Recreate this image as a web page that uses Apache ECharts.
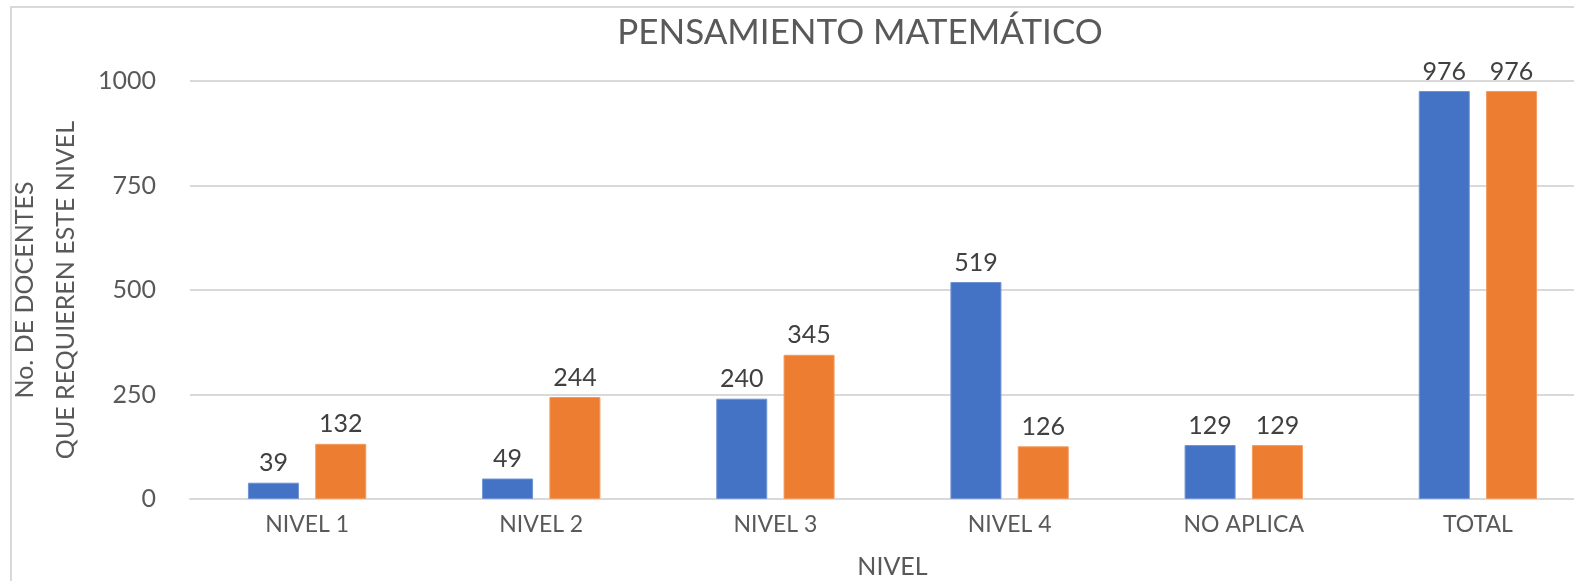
<!DOCTYPE html>
<html>
<head>
<meta charset="utf-8">
<title>Pensamiento matemático</title>
<script src="https://cdn.jsdelivr.net/npm/echarts@6/dist/echarts.min.js"></script>
<style>
  html, body { margin: 0; padding: 0; background: #fff; }
  #chart { width: 1574px; height: 581px; }
</style>
</head>
<body>
<div id="chart"></div>
<script>
// categorias y valores
const categories = ['NIVEL 1', 'NIVEL 2', 'NIVEL 3', 'NIVEL 4', 'NO APLICA', 'TOTAL'];
const serieAzul = [39, 49, 240, 519, 129, 976];
const serieNaranja = [132, 244, 345, 126, 129, 976];
const yTicks = [0, 250, 500, 750, 1000];

const textColor = '#595959';
const fontFamily = 'Lato, "Open Sans", sans-serif';

const chart = echarts.init(document.getElementById('chart'));

const labelStyle = {
  show: true,
  position: 'top',
  distance: 7,
  color: '#404040',
  fontSize: 25,
  fontFamily,
};

chart.setOption({
  animation: false,
  textStyle: { fontFamily },
  title: {
    text: 'PENSAMIENTO MATEMÁTICO',
    left: 855,
    top: 10,
    textAlign: 'center',
    textStyle: {
      color: textColor,
      fontSize: 35,
      fontWeight: 'normal',
      fontFamily,
    },
  },
  graphic: [
    {
      type: 'rect',
      shape: { x: 11, y: 7, width: 1700, height: 700 },
      style: { fill: 'none', stroke: '#d9d9d9', lineWidth: 2 },
      silent: true,
      z: -1,
    },
  ],
  grid: {
    left: 190,
    top: 81,
    width: 1405,
    height: 418,
    outerBoundsMode: 'none',
  },
  xAxis: {
    type: 'category',
    data: categories,
    name: 'NIVEL',
    nameLocation: 'middle',
    nameGap: 55,
    nameTextStyle: { color: textColor, fontSize: 25 },
    axisLine: { lineStyle: { color: '#d9d9d9', width: 2 } },
    axisTick: { show: false },
    axisLabel: { color: textColor, fontSize: 23, margin: 14 },
  },
  yAxis: {
    type: 'value',
    min: yTicks[0],
    max: yTicks[yTicks.length - 1],
    interval: 250,
    name: 'No. DE DOCENTES\nQUE REQUIEREN ESTE NIVEL',
    nameLocation: 'middle',
    nameGap: 104,
    nameTextStyle: { color: textColor, fontSize: 25, lineHeight: 41 },
    axisLine: { show: false },
    axisTick: { show: false },
    axisLabel: {
      color: textColor,
      fontSize: 25,
      margin: 34,
      formatter: (v) => String(v),
    },
    splitLine: { lineStyle: { color: '#d9d9d9', width: 2 } },
  },
  series: [
    {
      name: 'Serie 1',
      type: 'bar',
      data: serieAzul,
      barWidth: 51,
      barGap: '32%',
      itemStyle: { color: '#4472C4', borderColor: '#6f93d3', borderWidth: 1 },
      label: labelStyle,
    },
    {
      name: 'Serie 2',
      type: 'bar',
      data: serieNaranja,
      barWidth: 51,
      barGap: '32%',
      itemStyle: { color: '#ED7D31', borderColor: '#f29b60', borderWidth: 1 },
      label: labelStyle,
    },
  ],
});
</script>
</body>
</html>
